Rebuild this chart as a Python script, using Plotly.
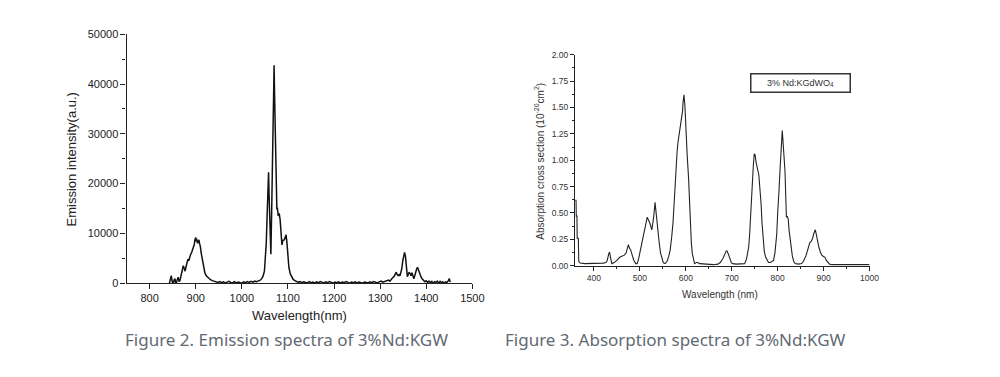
import plotly.graph_objects as go

# ---------------- Emission spectrum (Figure 2) ----------------
em_wl = [843, 845, 847, 849, 851, 853, 855, 857, 858, 860, 862, 864, 866, 868, 869, 871, 873, 875, 877, 879,
         881, 883, 885, 887, 889, 891, 893, 895, 897, 898, 900, 901, 902, 904, 905, 907, 908, 910, 912, 914,
         916, 918, 920, 923, 926, 929, 932, 936, 940, 944,
         948, 952, 956, 960, 964, 968, 972, 976, 980, 984, 988, 992, 996, 1000, 1004, 1008, 1012, 1016, 1020,
         1024, 1028, 1032, 1036, 1040, 1043, 1046, 1049, 1051, 1053, 1055, 1056, 1058, 1059, 1061, 1063, 1065,
         1067, 1069, 1070, 1071, 1073, 1075, 1076, 1077, 1079, 1081, 1083, 1085, 1087, 1089, 1092, 1094, 1096,
         1098, 1100, 1102, 1105, 1108, 1111, 1114,
         1118, 1122, 1126, 1130, 1134, 1138, 1142, 1146, 1150, 1154, 1158, 1162, 1166, 1170, 1174, 1178, 1182,
         1186, 1190, 1194, 1198, 1202, 1206, 1210, 1214, 1218, 1222, 1226, 1230, 1234, 1238, 1242, 1246, 1250,
         1254, 1258, 1262, 1266, 1270, 1274, 1278, 1282, 1286, 1290, 1294, 1298, 1302, 1306, 1310, 1314, 1318,
         1321, 1324, 1327, 1330, 1333, 1335, 1337, 1339, 1341, 1343, 1345, 1347, 1349, 1351, 1353, 1355, 1357,
         1359, 1361, 1363, 1365, 1367, 1369, 1371, 1373, 1375, 1377, 1379, 1381, 1383, 1385, 1387, 1389, 1391,
         1394, 1397, 1400, 1403, 1406, 1409, 1412, 1415, 1418, 1421, 1424, 1427, 1430, 1433, 1436, 1439, 1442,
         1445, 1448, 1450, 1452]
em_int = [0, 800, 1500, 300, -100, 600, 900, -300, 200, 700, 1200, 300, 600, 1400, 1900, 2600, 3500, 3000, 2400, 3300,
          4200, 4800, 4500, 5400, 5800, 6100, 6600, 7200, 7800, 8600, 9200, 8400, 8900, 8000, 8500, 8700, 8100, 7400, 6000, 4800,
          3600, 2600, 2000, 1500, 1200, 900, 700, 500, 350, 250,
          150, 300, 100, 250, 50, 200, 350, 150, 100, 300, 50, 200, 150, 0, 250, 100, 300, 150, 350,
          200, 400, 300, 450, 600, 900, 1400, 2400, 4500, 8000, 14000, 19000, 22300, 18000, 11000, 5800, 16000,
          31000, 40000, 43800, 38000, 28000, 18000, 14800, 15200, 13500, 14000, 12800, 9000, 7700, 8600, 8700, 9200, 9700,
          8000, 5000, 3200, 1900, 1200, 800, 550,
          350, 200, 300, 100, 250, 150, 50, 300, 100, 200, 0, 250, 100, 300, 150, 50, 250,
          100, 300, 150, 0, 200, 100, 250, 50, 200, 100, 300, 150, 0, 200, 100, 250, 50,
          200, 100, 0, 200, 150, 50, 250, 100, 300, 150, 50, 250, 400, 200, 350, 500, 600,
          400, 800, 1100, 1300, 2000, 2200, 1700, 1500, 1700, 1500, 2200, 2900, 4500, 5600, 6200, 5300, 3500,
          1300, 1800, 2200, 1900, 1500, 2100, 1100, 900, 1500, 2300, 2800, 3200, 2600, 2000, 1800, 1200, 900,
          600, 300, 500, 150, 400, 100, 350, -100, 300, 150, 400, 0, 350, 100, 300, -50, 250,
          150, 500, 900, 200]

em_xticks = [800, 900, 1000, 1100, 1200, 1300, 1400, 1500]
em_yticks = [0, 10000, 20000, 30000, 40000, 50000]
em_yticklabels = ["0", "10000", "20000", "30000", "40000", "50000"]
em_yminor = [5000, 15000, 25000, 35000, 45000]

# ---------------- Absorption spectrum (Figure 3) ----------------
ab_wl = [359, 361, 361.5, 363, 363.5, 366, 367, 370, 380, 390, 400, 410, 420, 426, 429, 432, 434, 436, 439, 444,
         450, 456, 461, 466, 470, 473, 475, 477, 480, 484, 487, 491, 494, 497, 500, 504, 509, 512, 516, 519,
         522, 526, 528, 530, 533, 535, 537, 540, 542, 545, 548, 551, 555, 559, 563, 566, 569, 572, 575, 578,
         581, 583, 586, 589, 591, 593, 594, 596, 598, 599, 601, 603, 606, 608, 610, 612, 614, 616, 619, 623,
         626, 630, 640, 650, 660, 670, 675, 678, 681, 685, 688, 690, 693, 696, 699, 702, 710, 720, 728, 732,
         735, 737, 739, 741, 743, 744, 745, 747, 749, 751, 753, 755, 757, 759, 761, 764, 766, 769, 771, 774,
         777, 780, 784, 788, 791, 794, 796, 798, 800, 801, 803, 805, 806, 808, 810, 811, 813, 815, 816, 818,
         819, 821, 823, 825, 827, 830, 832, 835, 838, 845, 852, 856, 859, 862, 866, 870, 873, 876, 879, 882,
         884, 887, 890, 893, 896, 899, 903, 906, 909, 913, 918, 930, 950, 970, 990, 1000]
ab_val = [0.62, 0.62, 0.47, 0.47, 0.26, 0.26, 0.04, 0.025, 0.02, 0.02, 0.02, 0.025, 0.025, 0.03, 0.05, 0.11, 0.13, 0.08, 0.02, 0.03,
          0.05, 0.08, 0.09, 0.10, 0.12, 0.17, 0.20, 0.17, 0.15, 0.09, 0.05, 0.02, 0.02, 0.06, 0.12, 0.20, 0.29, 0.36, 0.46, 0.43,
          0.40, 0.34, 0.40, 0.46, 0.60, 0.50, 0.43, 0.30, 0.22, 0.12, 0.06, 0.03, 0.02, 0.04, 0.09, 0.15, 0.26, 0.40, 0.62, 0.89,
          1.08, 1.17, 1.26, 1.34, 1.42, 1.47, 1.55, 1.62, 1.52, 1.38, 1.20, 1.05, 0.83, 0.60, 0.40, 0.22, 0.12, 0.06, 0.02, 0.03,
          0.03, 0.02, 0.015, 0.01, 0.01, 0.015, 0.03, 0.05, 0.07, 0.11, 0.14, 0.14, 0.11, 0.07, 0.03, 0.02, 0.015, 0.015, 0.02, 0.06,
          0.12, 0.18, 0.30, 0.50, 0.68, 0.72, 0.80, 0.95, 1.06, 1.05, 0.98, 0.92, 0.90, 0.86, 0.76, 0.58, 0.40, 0.22, 0.13, 0.08,
          0.05, 0.03, 0.03, 0.04, 0.05, 0.12, 0.20, 0.30, 0.50, 0.65, 0.72, 0.90, 0.98, 1.15, 1.28, 1.22, 1.08, 0.95, 0.89, 0.60,
          0.46, 0.47, 0.44, 0.33, 0.25, 0.14, 0.09, 0.04, 0.02, 0.015, 0.02, 0.04, 0.07, 0.10, 0.16, 0.22, 0.23, 0.26, 0.31, 0.34,
          0.30, 0.22, 0.17, 0.13, 0.10, 0.09, 0.08, 0.05, 0.03, 0.015, 0.01, 0.01, 0.01, 0.01, 0.01, 0.01]

ab_xticks = [400, 500, 600, 700, 800, 900, 1000]
ab_xminor = [450, 550, 650, 750, 850, 950]
ab_yticks = [0.00, 0.25, 0.50, 0.75, 1.00, 1.25, 1.50, 1.75, 2.00]
ab_yminor = [0.125, 0.375, 0.625, 0.875, 1.125, 1.375, 1.625, 1.875]

W, H = 1000, 377


def px(x):
    return x / W


def py(y):
    return 1 - y / H


fig = go.Figure()
fig.add_trace(go.Scatter(x=em_wl, y=em_int, mode="lines", line=dict(color="#111111", width=1.5),
                         xaxis="x", yaxis="y", showlegend=False, hoverinfo="skip"))
fig.add_trace(go.Scatter(x=ab_wl, y=ab_val, mode="lines", line=dict(color="#222222", width=1.1),
                         xaxis="x2", yaxis="y2", showlegend=False, hoverinfo="skip"))

axis_common = dict(showline=True, linecolor="#222222", linewidth=1.2, showgrid=False, zeroline=False,
                   ticks="outside", tickcolor="#222222", mirror=False, fixedrange=True)

fig.update_layout(
    width=W, height=H,
    margin=dict(l=0, r=0, t=0, b=0),
    paper_bgcolor="white", plot_bgcolor="white",
    xaxis=dict(domain=[px(120), px(470)], anchor="y", range=[750, 1500], tickmode="array", tickvals=em_xticks,
               ticklen=5, tickwidth=1.1,
               tickfont=dict(family="Liberation Sans, Arial", size=11, color="#222222"), **axis_common),
    yaxis=dict(domain=[py(278), py(21)], anchor="x", range=[0, 50000], tickmode="array", tickvals=em_yticks,
               ticktext=em_yticklabels, ticklen=5, tickwidth=1.1,
               minor=dict(ticks="outside", ticklen=3, tickvals=em_yminor, tickcolor="#222222", showgrid=False),
               tickfont=dict(family="Liberation Sans, Arial", size=11, color="#222222"), **axis_common),
    xaxis2=dict(domain=[px(574), px(872)], anchor="y2", range=[359, 1000], tickmode="array", tickvals=ab_xticks,
                ticklen=4, tickwidth=1.1,
                minor=dict(ticks="outside", ticklen=2.5, tickvals=ab_xminor, tickcolor="#222222", showgrid=False),
                tickfont=dict(family="Liberation Sans, Arial", size=8.5, color="#333333"), **axis_common),
    yaxis2=dict(domain=[py(260), py(42)], anchor="x2", range=[0, 2.0], tickmode="array", tickvals=ab_yticks,
                tickformat=".2f", ticklen=4, tickwidth=1.1,
                minor=dict(ticks="outside", ticklen=2.5, tickvals=ab_yminor, tickcolor="#222222", showgrid=False),
                tickfont=dict(family="Liberation Sans, Arial", size=8.5, color="#333333"), **axis_common),
)

ann = []
# Axis titles
ann.append(dict(text="Wavelength(nm)", x=px(295), y=py(311), xref="paper", yref="paper", showarrow=False,
                font=dict(family="Liberation Sans, Arial", size=13, color="#222222"), xanchor="center", yanchor="middle"))
ann.append(dict(text="Emission intensity(a.u.)", x=px(64), y=py(150), xref="paper", yref="paper", showarrow=False,
                textangle=-90, font=dict(family="Liberation Sans, Arial", size=13, color="#222222"),
                xanchor="center", yanchor="middle"))
ann.append(dict(text="Wavelength (nm)", x=px(721), y=py(290), xref="paper", yref="paper", showarrow=False,
                font=dict(family="Liberation Sans, Arial", size=10, color="#333333"), xanchor="center", yanchor="middle"))
ann.append(dict(text="Absorption cross section (10<sup>-20</sup>cm<sup>2</sup>)", x=px(538), y=py(152),
                xref="paper", yref="paper", showarrow=False, textangle=-90,
                font=dict(family="Liberation Sans, Arial", size=10, color="#333333"), xanchor="center", yanchor="middle"))
# Legend box
ann.append(dict(text="3% Nd:KGdWO<sub>4</sub>", x=px(802), y=py(71), xref="paper", yref="paper", showarrow=False,
                font=dict(family="Liberation Sans, Arial", size=9, color="#333333"), xanchor="center", yanchor="middle",
                bordercolor="#333333", borderwidth=1.5, borderpad=3, bgcolor="white", width=92))
# Captions
ann.append(dict(text="Figure 2. Emission spectra of 3%Nd:KGW", x=px(116), y=py(336), xref="paper", yref="paper",
                showarrow=False, font=dict(family="Noto Sans, Open Sans", size=17, color="#626973"),
                xanchor="left", yanchor="middle"))
ann.append(dict(text="Figure 3. Absorption spectra of 3%Nd:KGW", x=px(501), y=py(336), xref="paper", yref="paper",
                showarrow=False, font=dict(family="Noto Sans, Open Sans", size=17, color="#626973"),
                xanchor="left", yanchor="middle"))
fig.update_layout(annotations=ann)

fig.write_html("out.html")
